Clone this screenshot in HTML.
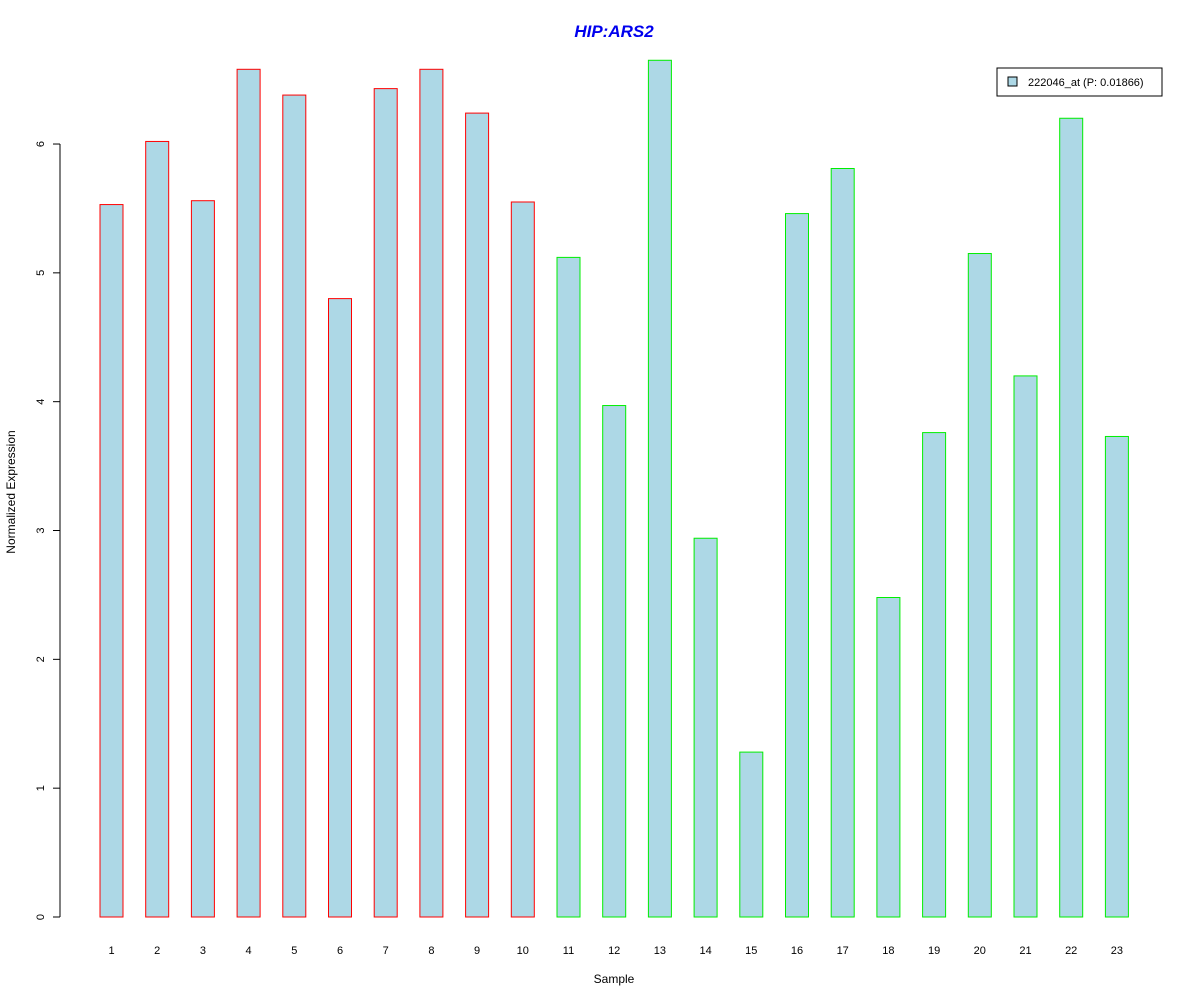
<!DOCTYPE html>
<html><head><meta charset="utf-8"><style>
body{margin:0;background:#fff;}
svg text{font-family:"Liberation Sans",Arial,sans-serif;}
</style></head><body>
<svg id="chart" width="1200" height="1000" xmlns="http://www.w3.org/2000/svg">
<rect width="1200" height="1000" fill="#fff"/>
<text x="614" y="37" text-anchor="middle" font-size="17" font-weight="bold" font-style="italic" fill="#0000ee">HIP:ARS2</text>
<text x="614" y="983" text-anchor="middle" font-size="12">Sample</text>
<text transform="translate(15,492) rotate(-90)" text-anchor="middle" font-size="12">Normalized Expression</text>
<g id="bars"></g><g id="yaxis"></g><g id="xlabels"></g>
<g>
<rect x="997" y="68" width="165" height="28" fill="#fff" stroke="#000"/>
<rect x="1008" y="77" width="9" height="9" fill="#add8e6" stroke="#000"/>
<text x="1028" y="86" font-size="11">222046_at (P: 0.01866)</text>
</g>
</svg>
<script>
const categories=["1","2","3","4","5","6","7","8","9","10","11","12","13","14","15","16","17","18","19","20","21","22","23"];
const values=[5.53,6.02,5.56,6.58,6.38,4.80,6.43,6.58,6.24,5.55,5.12,3.97,6.65,2.94,1.28,5.46,5.81,2.48,3.76,5.15,4.20,6.20,3.73];
const groups=["red","red","red","red","red","red","red","red","red","red","green","green","green","green","green","green","green","green","green","green","green","green","green"];
const yTicks=[0,1,2,3,4,5,6];
const NS="http://www.w3.org/2000/svg";
const y=v=>917-v*128.83;
const xc=i=>111.5+i*45.7;
const colors={red:"#ff0000",green:"#00ee00"};
const bars=document.getElementById("bars");
values.forEach((v,i)=>{
 const r=document.createElementNS(NS,"rect");
 
 
 r.setAttribute("x",xc(i)-11.5);r.setAttribute("width",23);
 r.setAttribute("y",y(v));r.setAttribute("height",917-y(v));
 r.setAttribute("fill","#add8e6");r.setAttribute("stroke",colors[groups[i]]);
 bars.appendChild(r);
 const t=document.createElementNS(NS,"text");
 
 
 t.setAttribute("x",xc(i));t.setAttribute("y",954);t.setAttribute("text-anchor","middle");t.setAttribute("font-size","11");
 t.textContent=categories[i];document.getElementById("xlabels").appendChild(t);
});
const ya=document.getElementById("yaxis");
const ax=document.createElementNS(NS,"line");


ax.setAttribute("x1",60);ax.setAttribute("x2",60);ax.setAttribute("y1",y(0));ax.setAttribute("y2",y(6));ax.setAttribute("stroke","#000");
ya.appendChild(ax);
yTicks.forEach(v=>{
 const l=document.createElementNS(NS,"line");
 
 
 l.setAttribute("x1",53);l.setAttribute("x2",60);l.setAttribute("y1",y(v));l.setAttribute("y2",y(v));l.setAttribute("stroke","#000");
 ya.appendChild(l);
 const t=document.createElementNS(NS,"text");
 
 
 t.setAttribute("transform","translate(44,"+y(v)+") rotate(-90)");t.setAttribute("text-anchor","middle");t.setAttribute("font-size","11");
 t.textContent=v;ya.appendChild(t);
});
</script>
</body></html>
